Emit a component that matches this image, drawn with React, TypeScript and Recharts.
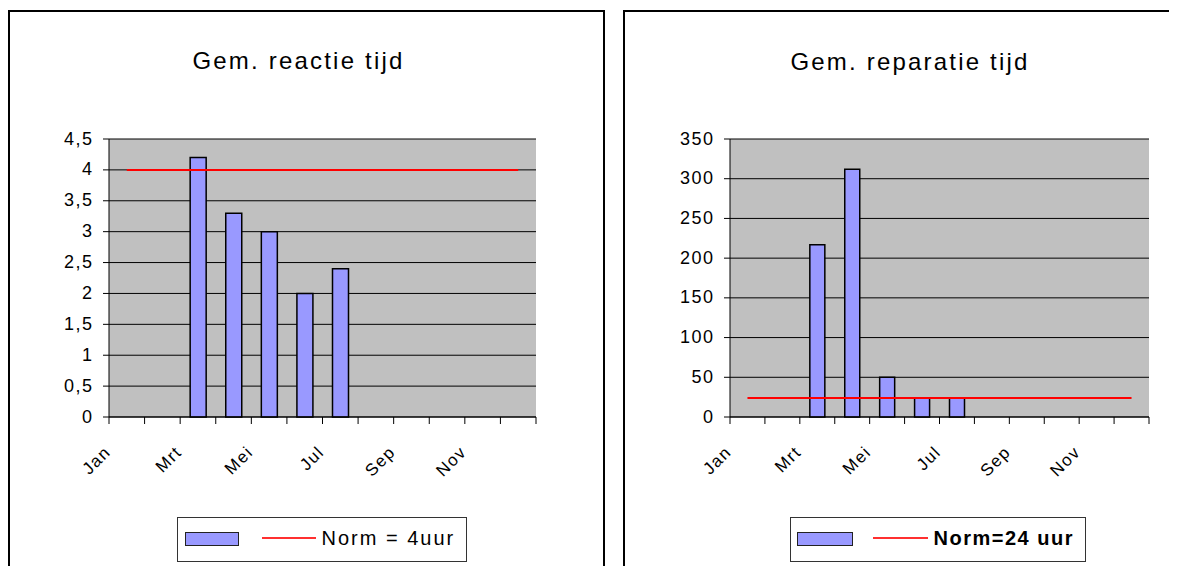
import React from 'react';
import { ComposedChart, Bar, Line, XAxis, YAxis, CartesianGrid, Legend } from 'recharts';

const FONT = "'Liberation Sans', Arial, sans-serif";

const months = ['Jan', 'Feb', 'Mrt', 'Apr', 'Mei', 'Jun', 'Jul', 'Aug', 'Sep', 'Okt', 'Nov', 'Dec'];

// Gem. reactie tijd (uur)
const reactieTijd = [null, null, 4.2, 3.3, 3.0, 2.0, 2.4, null, null, null, null, null];
const reactieNorm = [4, 4, 4, 4, 4, 4, 4, 4, 4, 4, 4, 4];
const reactieTicks = [0, 0.5, 1, 1.5, 2, 2.5, 3, 3.5, 4, 4.5];

// Gem. reparatie tijd (uur)
const reparatieTijd = [null, null, 217, 312, 50, 24, 24, null, null, null, null, null];
const reparatieNorm = [24, 24, 24, 24, 24, 24, 24, 24, 24, 24, 24, 24];
const reparatieTicks = [0, 50, 100, 150, 200, 250, 300, 350];

const CHART_H = 566;
const Y_W = 60;
const X_H = 60;

const commaFmt = (v: number) => String(v).replace('.', ',');

const makeMonthTick = (band: number) => (props: any) => {
  const { x, y, index, payload } = props;
  const h = band / 2;
  const ax = x - 15;
  const ay = y + 36;
  return (
    <g>
      <line x1={x - h} x2={x - h} y1={y} y2={y + 7} stroke="#000" />
      {index === months.length - 1 && <line x1={x + h} x2={x + h} y1={y} y2={y + 7} stroke="#000" />}
      {index % 2 === 0 && (
        <text
          x={ax}
          y={ay}
          textAnchor="end"
          transform={`rotate(-45 ${ax} ${ay})`}
          fontSize={17}
          letterSpacing={1.5}
          fontFamily={FONT}
          fill="#000"
        >
          {payload.value}
        </text>
      )}
    </g>
  );
};

const makeValueTick = (fmt: (v: number) => string) => (props: any) => {
  const { x, y, payload } = props;
  return (
    <text x={x} y={y} dy={5.5} textAnchor="end" fontSize={18} letterSpacing={1.5} fontFamily={FONT} fill="#000">
      {fmt(payload.value)}
    </text>
  );
};

const makeLegend = (cfg: { swatchLeft: number; swatchW: number; lineLeft: number; lineW: number; textLeft: number; bold: boolean; spacing: number }) =>
  (props: any) => {
    const items = props.payload || [];
    return (
      <div
        style={{
          position: 'relative',
          width: '100%',
          height: '100%',
          boxSizing: 'border-box',
          border: '1.5px solid #333',
          background: '#fff',
          fontFamily: FONT,
        }}
      >
        {items.map((it: any, i: number) =>
          it.type === 'rect' ? (
            <div
              key={i}
              style={{
                position: 'absolute',
                left: cfg.swatchLeft,
                top: 13.5,
                width: cfg.swatchW,
                height: 14,
                boxSizing: 'border-box',
                background: '#9999ff',
                border: '1.5px solid #222',
              }}
            />
          ) : (
            <React.Fragment key={i}>
              <div style={{ position: 'absolute', left: cfg.lineLeft, top: 19, width: cfg.lineW, height: 1.5, background: '#ff3030' }} />
              <div
                style={{
                  position: 'absolute',
                  left: cfg.textLeft,
                  top: 9.6,
                  fontSize: 20,
                  lineHeight: '20px',
                  letterSpacing: cfg.spacing,
                  fontWeight: cfg.bold ? 700 : 400,
                  color: '#000',
                  whiteSpace: 'nowrap',
                }}
              >
                {it.value}
              </div>
            </React.Fragment>
          )
        )}
      </div>
    );
  };

interface PanelProps {
  left: number;
  width: number;
  margin: { top: number; right: number; bottom: number; left: number };
  values: (number | null)[];
  norm: number[];
  ticks: number[];
  fmt: (v: number) => string;
  barSize: number;
  normLabel: string;
  legendPos: { left: number; width: number };
  legendCfg: any;
}

function Panel({ left, width, margin, values, norm, ticks, fmt, barSize, normLabel, legendPos, legendCfg }: PanelProps) {
  const data = months.map((m, i) => ({ month: m, value: values[i], norm: norm[i] }));
  const plotW = width - margin.left - margin.right - Y_W;
  const band = plotW / months.length;
  const top = ticks[ticks.length - 1];
  return (
    <div style={{ position: 'absolute', left, top: 0 }}>
      <ComposedChart width={width} height={CHART_H} data={data} margin={margin}>
        <CartesianGrid vertical={false} stroke="#000" fill="#c0c0c0" fillOpacity={1} />
        <XAxis
          dataKey="month"
          interval={0}
          tickSize={0}
          tickMargin={0}
          tickLine={false}
          height={X_H}
          axisLine={{ stroke: '#000' }}
          tick={makeMonthTick(band)}
        />
        <XAxis xAxisId="top" dataKey="month" orientation="top" height={0} tick={false} tickLine={false} axisLine={{ stroke: '#808080' }} />
        <YAxis
          type="number"
          domain={[0, top]}
          ticks={ticks}
          interval={0}
          width={Y_W}
          tickSize={6}
          tickMargin={9.5}
          tickLine={{ stroke: '#000' }}
          axisLine={{ stroke: '#000' }}
          tick={makeValueTick(fmt)}
        />
        <YAxis yAxisId="edge" orientation="right" width={0} domain={[0, 1]} tick={false} tickLine={false} axisLine={{ stroke: '#808080' }} />
        <Bar dataKey="value" name="" fill="#9999ff" stroke="#000" strokeWidth={1.5} barSize={barSize} isAnimationActive={false} legendType="rect" />
        <Line dataKey="norm" name={normLabel} stroke="#ff0000" strokeWidth={2} dot={false} activeDot={false} isAnimationActive={false} legendType="line" />
        <Legend
          layout="horizontal"
          verticalAlign="middle"
          align="center"
          wrapperStyle={{ left: legendPos.left, top: 509, width: legendPos.width, height: 45 }}
          content={makeLegend(legendCfg)}
        />
      </ComposedChart>
    </div>
  );
}

const titleStyle: React.CSSProperties = {
  position: 'absolute',
  width: 400,
  textAlign: 'center',
  fontSize: 24,
  lineHeight: '24px',
  letterSpacing: 2.2,
  paddingLeft: 2,
  color: '#000',
  fontFamily: FONT,
  whiteSpace: 'nowrap',
};

export default function App() {
  return (
    <div style={{ position: 'relative', width: 1161, height: 558, fontFamily: FONT }}>
      <div style={{ position: 'absolute', left: 0, top: 2, width: 597, height: 562, boxSizing: 'border-box', border: '2px solid #000', borderBottom: 'none' }} />
      <div style={{ position: 'absolute', left: 615, top: 2, width: 550, height: 562, boxSizing: 'border-box', border: '2px solid #000', borderBottom: 'none' }} />

      <div style={{ ...titleStyle, left: 88.5, top: 40.7 }}>Gem. reactie tijd</div>
      <div style={{ ...titleStyle, left: 700, top: 41.7 }}>Gem. reparatie tijd</div>

      <Panel
        left={0}
        width={597}
        margin={{ top: 131, right: 69, bottom: 97, left: 41 }}
        values={reactieTijd}
        norm={reactieNorm}
        ticks={reactieTicks}
        fmt={commaFmt}
        barSize={16}
        normLabel="Norm = 4uur"
        legendPos={{ left: 169, width: 290 }}
        legendCfg={{ swatchLeft: 6.5, swatchW: 54, lineLeft: 83.5, lineW: 54, textLeft: 143.5, bold: false, spacing: 2 }}
      />
      <Panel
        left={615}
        width={551}
        margin={{ top: 131, right: 25, bottom: 97, left: 47 }}
        values={reparatieTijd}
        norm={reparatieNorm}
        ticks={reparatieTicks}
        fmt={(v) => String(v)}
        barSize={15}
        normLabel="Norm=24 uur"
        legendPos={{ left: 167, width: 296 }}
        legendCfg={{ swatchLeft: 5.5, swatchW: 56, lineLeft: 81.5, lineW: 55, textLeft: 142.5, bold: true, spacing: 1.5 }}
      />
    </div>
  );
}
